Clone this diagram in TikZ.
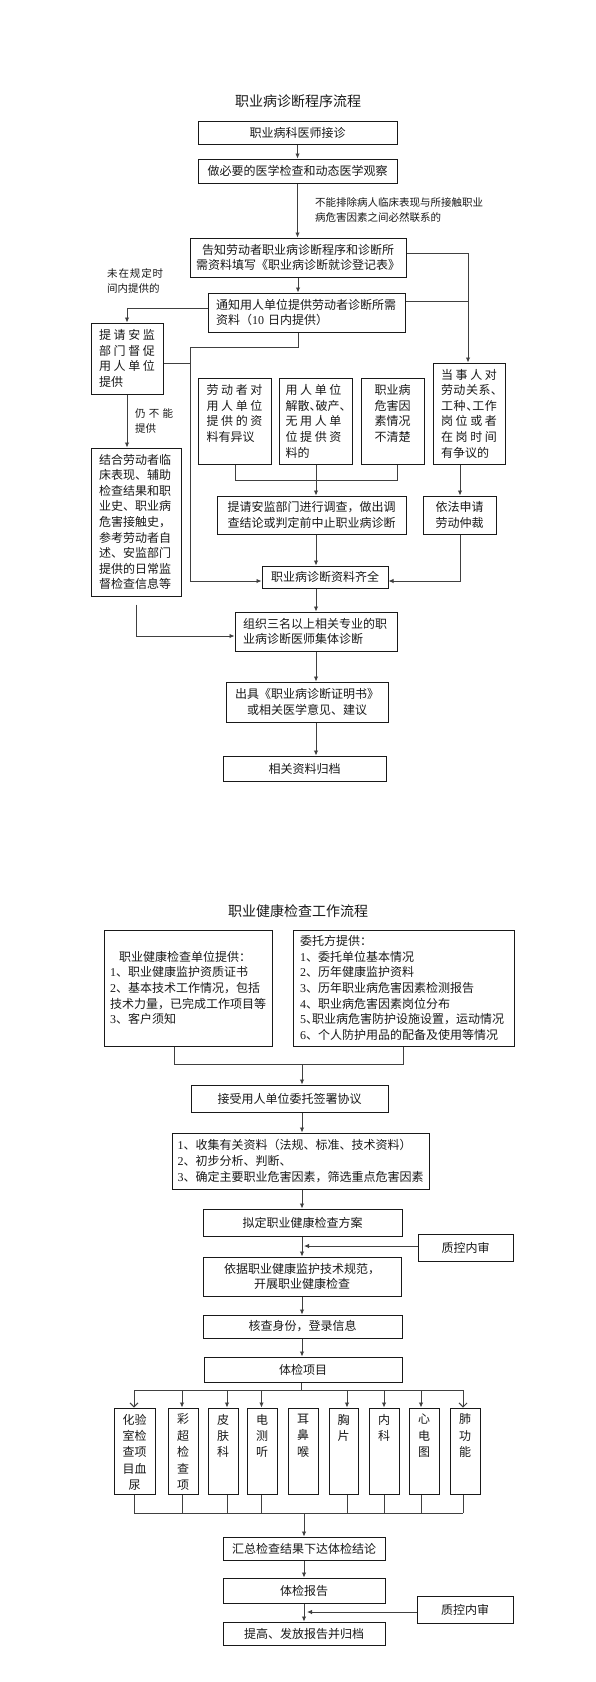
\documentclass[tikz,border=0pt]{standalone}
\usepackage{fontspec}
\setmainfont{Noto Sans CJK SC}
\newfontfamily\lat{Liberation Serif}
\usetikzlibrary{arrows.meta}
\newcommand\hp[1]{\makebox[.5em][l]{#1}}
\newcommand\fz{\fontsize{12pt}{15.6pt}\selectfont}
\newcommand\fl{\fontsize{10.5pt}{15pt}\selectfont}
\newcommand\ft{\fontsize{14pt}{16pt}\selectfont}
\begin{document}
\begin{tikzpicture}[x=1pt,y=-1pt,
  box/.style={draw=black!90, line width=1pt, inner sep=0pt, font=\fz, text=black!90},
  lab/.style={inner sep=0pt, font=\fl, align=left, anchor=west, text=black!90},
  ttl/.style={inner sep=0pt, font=\ft, text=black!90},
  conn/.style={draw=black!75, line width=0.9pt},
  arr/.style={conn, -{Latex[length=5pt,width=4.5pt]}},
  oarr/.style={conn, -{Straight Barb[length=4pt,width=8pt]}}]
\fill[white] (0,0) rectangle (595,1682);
\useasboundingbox (0,0) rectangle (595,1682);

% ---------------- section 1 ----------------
\node[ttl] (t1) at (298,101) {职业病诊断程序流程};
\node[box, minimum width=199pt, minimum height=23pt] (b1) at (297.5,132.5) {职业病科医师接诊};
\node[box, minimum width=199pt, minimum height=24pt] (b2) at (297.5,171) {做必要的医学检查和动态医学观察};
\node[lab] (lab1) at (315,210.5) {不能排除病人临床表现与所接触职业\\病危害因素之间必然联系的};
\node[box, minimum width=216pt, minimum height=39pt, align=center] (b3) at (298,257.5) {告知劳动者职业病诊断程序和诊断所\\需资料填写《职业病诊断就诊登记表》};
\node[box, minimum width=197pt, minimum height=39pt, text width=181pt, align=left] (b4) at (306.5,312.5) {通知用人单位提供劳动者诊断所需\\资料（{\lat 10} 日内提供）};
\node[lab] (lab2) at (107,280.5) {\makebox[56pt]{未\hfill 在\hfill 规\hfill 定\hfill 时}\\间内提供的};
\node[box, minimum width=72pt, minimum height=71pt, text width=56pt, align=left] (b5) at (127,358.5)
  {\makebox[56pt]{提\hfill 请\hfill 安\hfill 监}\\\makebox[56pt]{部\hfill 门\hfill 督\hfill 促}\\\makebox[56pt]{用\hfill 人\hfill 单\hfill 位}\\提供};
\node[lab] (lab3) at (135,420.5) {\makebox[38pt]{仍\hfill 不\hfill 能}\\提供};
\node[box, minimum width=90pt, minimum height=148pt, text width=74pt, align=left] (b6) at (136,522)
  {结合劳动者临\\床表现、辅助\\检查结果和职\\业史、职业病\\危害接触史，\\参考劳动者自\\述、安监部门\\提供的日常监\\督检查信息等};
\node[box, minimum width=73pt] (A) at (234.5,421)
  {\parbox[c][86pt][t]{56pt}{\vspace*{6.5pt}\makebox[56pt]{劳\hfill 动\hfill 者\hfill 对}\\\makebox[56pt]{用\hfill 人\hfill 单\hfill 位}\\\makebox[56pt]{提\hfill 供\hfill 的\hfill 资}\\料有异议}};
\node[box, minimum width=73pt] (B) at (315.5,421)
  {\parbox[c][86pt][t]{60pt}{\vspace*{6.5pt}\makebox[56pt]{用\hfill 人\hfill 单\hfill 位}\\解散\hp{、}破产\hp{、}\\\makebox[56pt]{无\hfill 用\hfill 人\hfill 单}\\\makebox[56pt]{位\hfill 提\hfill 供\hfill 资}\\料的}};
\node[box, minimum width=63pt] (C) at (392.5,421)
  {\parbox[c][86pt][t]{40pt}{\centering\vspace*{6.5pt}职业病\\危害因\\素情况\\不清楚}};
\node[box, minimum width=72pt, minimum height=101pt, text width=56pt, align=left] (R) at (469,413.5)
  {\makebox[56pt]{当\hfill 事\hfill 人\hfill 对}\\\makebox[56pt]{劳\hfill 动\hfill 关\hfill 系\hfill\hp{、}}\\\makebox[56pt]{工\hfill 种\hfill\hp{、}工\hfill 作}\\\makebox[56pt]{岗\hfill 位\hfill 或\hfill 者}\\\makebox[56pt]{在\hfill 岗\hfill 时\hfill 间}\\有争议的};
\node[box, minimum width=189pt, minimum height=38pt, align=center] (D) at (311.5,515) {提请安监部门进行调查，做出调\\查结论或判定前中止职业病诊断};
\node[box, minimum width=73pt, minimum height=38pt, align=center] (E) at (459.5,515) {依法申请\\劳动仲裁};
\node[box, minimum width=126pt, minimum height=22pt] (F) at (325,577) {职业病诊断资料齐全};
\node[box, minimum width=162pt, minimum height=39pt, text width=146pt, align=left] (G) at (316,631.5) {组织三名以上相关专业的职\\业病诊断医师集体诊断};
\node[box, minimum width=162pt, minimum height=40pt, align=center] (H) at (307,702) {出具《职业病诊断证明书》\\或相关医学意见、建议};
\node[box, minimum width=163pt, minimum height=25pt] (I) at (304.5,768.5) {相关资料归档};

\coordinate (j1) at (190,347);
\coordinate (j2) at (190,581);
\coordinate (rr) at (468,0);
\coordinate (ba) at (235,480);
\coordinate (bb) at (316,480);
\coordinate (bc) at (397,480);
\coordinate (rx) at (460,0);

\draw[arr] (b1.south) -- (b2.north);
\draw[arr] (b2.south) -- (b2.south |- b3.north);
\draw[arr] (b3.south) -- (b3.south |- b4.north);
\draw[arr] (b3.south |- b4.south) |- (j1) -- (j2) -- (j2 -| F.west);
\draw[conn] ([yshift=-4.5pt]b5.east) -| (j1);
\draw[arr] ([yshift=4.5pt]b4.west) -| (b5.north);
\draw[arr] (b5.south) -- (b5.south |- b6.north);
\draw[arr] ([yshift=4.5pt]b3.east) -| (rr |- R.north);
\draw[conn] ([yshift=11.5pt]b4.east) -| (rr |- b3.east);
\draw[conn] (ba |- A.south) -- (ba) -- (bc) -- (bc |- C.south);
\draw[arr] (bb |- B.south) -- (bb |- D.north);
\draw[arr] (rx |- R.south) -- (rx |- E.north);
\draw[arr] (rx |- E.south) |- (j2 -| F.east);
\draw[arr] (bb |- D.south) -- (bb |- F.north);
\draw[arr] (bb |- F.south) -- (bb |- G.north);
\draw[arr] (bb |- G.south) -- (bb |- H.north);
\draw[arr] (bb |- H.south) -- (bb |- I.north);
\draw[arr] ([yshift=-8pt]b6.south) |- ([yshift=-4.5pt]G.west);

% ---------------- section 2 ----------------
\node[ttl] (t2) at (298,911) {职业健康检查工作流程};
\node[box, minimum width=168pt, minimum height=116pt, text width=156pt, align=left] (L) at (188,988)
  {\hspace*{9pt}职业健康检查单位提供：\\{\lat 1}、职业健康监护资质证书\\{\lat 2}、基本技术工作情况，包括\\技术力量，已完成工作项目等\\{\lat 3}、客户须知};
\node[box, minimum width=221pt, minimum height=116pt, text width=207pt, align=left] (R2) at (403.5,988)
  {委托方提供：\\{\lat 1}、委托单位基本情况\\{\lat 2}、历年健康监护资料\\{\lat 3}、历年职业病危害因素检测报告\\{\lat 4}、职业病危害因素岗位分布\\{\lat 5}\hp{、}职业病危害防护设施设置，运动情况\\{\lat 6}、个人防护用品的配备及使用等情况};
\node[box, minimum width=197pt, minimum height=27pt] (S1) at (289.5,1098.5) {接受用人单位委托签署协议};
\node[box, minimum width=257pt, minimum height=56pt, text width=246pt, align=left] (S2) at (300.5,1161)
  {{\lat 1}、收集有关资料（法规、标准、技术资料）\\{\lat 2}、初步分析、判断、\\{\lat 3}、确定主要职业危害因素，筛选重点危害因素};
\node[box, minimum width=199pt, minimum height=27pt] (S3) at (302.5,1222.5) {拟定职业健康检查方案};
\node[box, minimum width=95pt, minimum height=27pt] (Q1) at (465.5,1247.5) {质控内审};
\node[box, minimum width=198pt, minimum height=39pt, align=center] (S4) at (302,1276.5) {依据职业健康监护技术规范，\\开展职业健康检查};
\node[box, minimum width=199pt, minimum height=23pt] (S5) at (302.5,1326.5) {核查身份，登录信息};
\node[box, minimum width=198pt, minimum height=25pt] (S6) at (303,1369.5) {体检项目};

\tikzset{kb/.style={box, font=\fontsize{12pt}{16.4pt}\selectfont}}
\node[kb] (k1) at (134.5,1451) {\parbox[c][86pt][t]{41pt}{\centering\vspace*{6pt}化验\\室检\\查项\\目血\\尿}};
\node[kb] (k2) at (183,1451) {\parbox[c][86pt][t]{30pt}{\centering\vspace*{6pt}彩\\超\\检\\查\\项}};
\node[kb] (k3) at (223,1451) {\parbox[c][86pt][t]{30pt}{\centering\vspace*{6pt}皮\\肤\\科}};
\node[kb] (k4) at (262,1451) {\parbox[c][86pt][t]{30pt}{\centering\vspace*{6pt}电\\测\\听}};
\node[kb] (k5) at (303,1451) {\parbox[c][86pt][t]{30pt}{\centering\vspace*{6pt}耳\\鼻\\喉}};
\node[kb] (k6) at (343.5,1451) {\parbox[c][86pt][t]{29pt}{\centering\vspace*{6pt}胸\\片}};
\node[kb] (k7) at (384,1451) {\parbox[c][86pt][t]{30pt}{\centering\vspace*{6pt}内\\科}};
\node[kb] (k8) at (424,1451) {\parbox[c][86pt][t]{30pt}{\centering\vspace*{6pt}心\\电\\图}};
\node[kb] (k9) at (465,1451) {\parbox[c][86pt][t]{30pt}{\centering\vspace*{6pt}肺\\功\\能}};

\node[box, minimum width=162pt, minimum height=23pt] (T1) at (304,1548.5) {汇总检查结果下达体检结论};
\node[box, minimum width=162pt, minimum height=25pt] (T2) at (304,1590.5) {体检报告};
\node[box, minimum width=162pt, minimum height=23pt] (T3) at (304,1633.5) {提高、发放报告并归档};
\node[box, minimum width=96pt, minimum height=27pt] (Q2) at (465,1609.5) {质控内审};

\coordinate (ml) at (174,1064);
\coordinate (m1) at (302,1064);
\coordinate (mr) at (403,1064);
\draw[conn] (ml |- L.south) -- (ml) -- (mr) -- (mr |- R2.south);
\draw[arr] (m1) -- (m1 |- S1.north);
\draw[arr] (m1 |- S1.south) -- (m1 |- S2.north);
\draw[arr] (m1 |- S2.south) -- (m1 |- S3.north);
\draw[arr] (m1 |- S3.south) -- (m1 |- S4.north);
\draw[arr] (m1 |- S4.south) -- (m1 |- S5.north);
\draw[arr] (m1 |- S5.south) -- (m1 |- S6.north);
\coordinate (q1t) at (304,1246);
\draw[arr] ([yshift=1.5pt]Q1.west) -- (q1t);

\coordinate (n0) at (301,1390);
\draw[conn] (n0 |- S6.south) -- (n0);
\foreach \i/\xx in {1/134,2/182,3/227,4/261.5,6/347,7/384,8/421,9/463}{
  \coordinate (tp\i) at (\xx,1390);
  \coordinate (bt\i) at (\xx,1513);
}
\draw[conn] (tp1) -- (tp9);
\draw[oarr] (tp1) -- (tp1 |- k1.north);
\foreach \i in {2,3,4,6,7,8}{\draw[arr] (tp\i) -- (tp\i |- k\i.north);}
\draw[oarr] (tp9) -- (tp9 |- k9.north);
\foreach \i in {1,2,3,4,6,7,8,9}{\draw[conn] (bt\i |- k\i.south) -- (bt\i);}
\draw[conn] (bt1) -- (bt9);
\coordinate (v0) at (304,1513);
\draw[arr] (v0) -- (v0 |- T1.north);
\draw[arr] (v0 |- T1.south) -- (v0 |- T2.north);
\draw[arr] (v0 |- T2.south) -- (v0 |- T3.north);
\coordinate (q2t) at (307,1612);
\draw[arr] ([yshift=-2.5pt]Q2.west) -- (q2t);
\end{tikzpicture}
\end{document}
